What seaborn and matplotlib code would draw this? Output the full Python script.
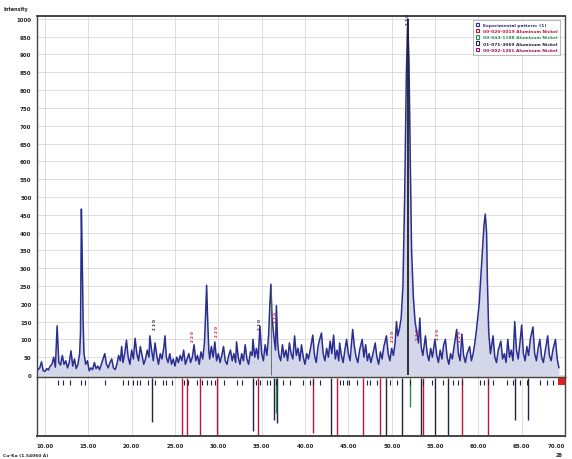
import matplotlib
matplotlib.use("Agg")
import matplotlib.pyplot as plt
import seaborn as sns
import pandas as pd
from matplotlib.patches import Patch

# ---------------- data ----------------
two_theta = [9.2, 9.4, 9.6, 9.8, 10.0, 10.2, 10.4, 10.6, 10.8, 11.0, 11.2, 11.4, 11.6, 11.8, 12.0,
             12.2, 12.4, 12.6, 12.8, 13.0, 13.2, 13.4, 13.6, 13.8, 14.0, 14.1, 14.2, 14.3, 14.4, 14.5,
             14.7, 14.9, 15.1, 15.3, 15.5, 15.7, 15.9, 16.1, 16.3, 16.5, 16.7, 16.9, 17.1, 17.3, 17.5,
             17.7, 17.9, 18.1, 18.3, 18.5, 18.7, 18.85, 19.0, 19.2, 19.4, 19.6, 19.8, 20.0, 20.2, 20.4,
             20.6, 20.8, 21.0, 21.2, 21.4, 21.6, 21.8, 22.0, 22.1, 22.3, 22.5, 22.7, 22.9, 23.1, 23.3,
             23.5, 23.7, 23.85, 24.0, 24.2, 24.4, 24.6, 24.8, 25.0, 25.2, 25.4, 25.6, 25.8, 26.0, 26.2,
             26.4, 26.6, 26.8, 27.0, 27.2, 27.4, 27.6, 27.8, 28.0, 28.2, 28.4, 28.55, 28.65, 28.75, 28.9,
             29.0, 29.2, 29.4, 29.6, 29.8, 30.0, 30.2, 30.4, 30.6, 30.8, 31.0, 31.2, 31.4, 31.6, 31.8,
             32.0, 32.1, 32.3, 32.5, 32.7, 32.9, 33.1, 33.3, 33.5, 33.7, 33.9, 34.0, 34.2, 34.4, 34.6,
             34.8, 35.0, 35.2, 35.4, 35.6, 35.8, 35.95, 36.07, 36.2, 36.4, 36.6, 36.7, 36.85, 37.0, 37.2,
             37.4, 37.6, 37.8, 38.0, 38.2, 38.4, 38.6, 38.8, 39.0, 39.2, 39.4, 39.6, 39.8, 40.0, 40.2,
             40.4, 40.6, 40.9, 41.1, 41.3, 41.5, 41.7, 41.9, 42.1, 42.3, 42.5, 42.7, 42.9, 43.1, 43.3,
             43.5, 43.7, 43.9, 44.0, 44.2, 44.4, 44.6, 44.8, 45.0, 45.2, 45.5, 45.7, 45.9, 46.1, 46.3,
             46.6, 46.8, 47.0, 47.2, 47.4, 47.6, 47.8, 48.1, 48.3, 48.5, 48.7, 48.9, 49.1, 49.4, 49.6,
             49.8, 50.0, 50.2, 50.4, 50.55, 50.7, 50.9, 51.1, 51.3, 51.5, 51.7, 51.85, 52.0, 52.15, 52.3,
             52.5, 52.7, 52.9, 53.1, 53.25, 53.4, 53.6, 53.9, 54.1, 54.3, 54.5, 54.7, 55.0, 55.2, 55.4,
             55.6, 55.8, 56.0, 56.2, 56.4, 56.6, 56.8, 57.0, 57.2, 57.5, 57.7, 57.9, 58.1, 58.3, 58.5,
             58.7, 59.0, 59.2, 59.4, 59.6, 59.8, 59.96, 60.1, 60.3, 60.5, 60.65, 60.8, 60.95, 61.05, 61.2,
             61.4, 61.7, 61.9, 62.1, 62.3, 62.6, 62.8, 63.0, 63.2, 63.4, 63.6, 63.8, 64.0, 64.2, 64.4,
             64.6, 64.8, 65.0, 65.2, 65.4, 65.6, 65.8, 66.0, 66.3, 66.5, 66.7, 66.9, 67.1, 67.3, 67.5,
             67.7, 68.0, 68.2, 68.4, 68.6, 68.9, 69.1, 69.3]
intensity = [15, 20, 37, 12, 10, 18, 14, 25, 30, 50, 22, 138, 35, 28, 55,
             30, 40, 20, 35, 68, 25, 45, 18, 30, 60, 120, 466, 330, 150, 60,
             30, 40, 12, 20, 15, 35, 18, 25, 15, 30, 45, 60, 30, 20, 35,
             45, 20, 15, 30, 55, 40, 80, 35, 60, 98, 50, 30, 70, 45, 103,
             60, 40, 80, 55, 30, 45, 70, 50, 110, 70, 40, 90, 55, 30, 60,
             45, 75, 110, 50, 35, 60, 30, 45, 25, 50, 35, 55, 40, 70, 30,
             45, 60, 35, 50, 85, 40, 55, 30, 65, 45, 90, 180, 252, 170, 70,
             45, 80, 50, 93, 40, 60, 35, 55, 80, 40, 30, 55, 70, 40, 60,
             35, 93, 50, 30, 60, 40, 85, 45, 30, 65, 55, 100, 50, 75, 45,
             138, 60, 40, 85, 55, 110, 200, 255, 160, 110, 70, 195, 90, 55, 40,
             85, 50, 70, 40, 90, 60, 45, 110, 55, 75, 40, 85, 50, 30, 60,
             45, 70, 112, 55, 35, 80, 100, 118, 60, 40, 75, 50, 95, 60, 112,
             45, 70, 40, 90, 55, 35, 70, 100, 60, 40, 128, 80, 50, 35, 70,
             100, 50, 85, 40, 60, 35, 55, 90, 50, 30, 65, 45, 80, 110, 60,
             40, 75, 55, 90, 150, 110, 130, 160, 250, 500, 850, 1000, 880, 600, 350,
             220, 150, 120, 90, 160, 80, 55, 110, 60, 40, 75, 50, 100, 55, 35,
             70, 45, 85, 100, 50, 30, 60, 45, 80, 128, 60, 40, 115, 55, 35,
             60, 80, 40, 60, 90, 130, 168, 200, 280, 360, 420, 452, 400, 260, 120,
             60, 110, 50, 35, 70, 95, 45, 60, 35, 100, 50, 70, 40, 150, 70,
             45, 90, 140, 60, 40, 80, 55, 100, 135, 60, 40, 75, 100, 50, 35,
             65, 110, 55, 40, 70, 100, 45, 20]

# reference-pattern sticks (lower panel), relative length
red_pos = [25.8, 26.4, 27.9, 29.8, 34.6, 40.9, 43.7, 46.7, 48.6, 53.6, 58.1, 61.1]
red_len = [1.0, 1.0, 1.0, 1.0, 1.0, 0.95, 1.0, 1.0, 1.0, 1.0, 1.0, 1.0]
dark_pos = [22.3, 34.0, 36.4, 36.8, 43.0, 49.4, 51.2, 53.4, 55.0, 56.5, 64.2, 65.7]
dark_len = [0.75, 0.92, 0.72, 0.77, 1.0, 1.0, 1.0, 1.0, 1.0, 1.0, 0.72, 0.72]
green_pos = [36.6, 52.1]
green_len = [0.6, 0.5]

# peak-position markers just below the zero line
marker_pos = [11.5, 12.1, 12.9, 14.2, 14.6, 16.9, 19.0, 19.6, 20.2, 20.6, 21.0, 21.9, 22.3, 22.7,
              23.6, 24.0, 24.6, 26.0, 26.5, 27.5, 28.1, 28.65, 29.2, 29.6, 30.6, 32.1, 32.7, 34.0,
              34.4, 34.8, 35.6, 36.0, 36.7, 37.5, 38.3, 39.8, 40.6, 40.9, 41.7, 44.0, 44.4, 44.8,
              45.1, 46.0, 47.1, 47.5, 48.3, 49.4, 49.8, 50.6, 52.1, 53.6, 54.6, 55.9, 57.1, 57.6,
              58.1, 60.2, 60.6, 61.1, 61.7, 63.3, 64.0, 64.8, 65.6, 67.1, 67.9, 68.6]

# small hkl labels above peaks
label_pos = [22.7, 27.1, 29.8, 34.8, 36.7, 50.2, 53.0, 55.3, 57.9, 51.9]
label_int = [130, 95, 110, 130, 150, 95, 100, 100, 95, 985]
label_col = ["#222244", "#c0143c", "#c0143c", "#222244", "#c0143c", "#c0143c", "#c0143c",
             "#c0143c", "#c0143c", "#222244"]

legend_labels = ["Experimental pattern: (1)",
                 "00-020-0019 Aluminum Nickel",
                 "00-044-1188 Aluminum Nickel",
                 "01-071-3069 Aluminum Nickel",
                 "00-002-1261 Aluminum Nickel"]
legend_colors = ["#2a2f8f", "#c0143c", "#2e8b57", "#222244", "#a0105a"]

x_ticks = [10, 15, 20, 25, 30, 35, 40, 45, 50, 55, 60, 65, 70]
y_ticks = list(range(0, 1001, 50))

# ---------------- drawing ----------------
sns.set_theme(style="white")
plt.rcParams["font.family"] = ["DejaVu Sans"]

W, H = 572, 460
fig = plt.figure(figsize=(W / 100, H / 100), dpi=100)
L, R = 37, 565
ax = fig.add_axes([L / W, 1 - 378 / H, (R - L) / W, (378 - 17) / H])
axb = fig.add_axes([L / W, 1 - 437 / H, (R - L) / W, (437 - 378) / H], sharex=ax)

df = pd.DataFrame({"two_theta": two_theta, "intensity": intensity})
ax.fill_between(df["two_theta"], 0, df["intensity"], color="#d4d7ea", lw=0, zorder=1)
sns.lineplot(data=df, x="two_theta", y="intensity", ax=ax, color="#2a2f8f",
             lw=1.1, sort=False, estimator=None, zorder=3)
# main reference stick through strongest peak
ax.vlines([51.85], 0, 1000, color="#222222", lw=1.3, zorder=4)
ax.vlines([36.07], 0, 250, color="#556655", lw=0.6, zorder=4)

for p, v, c in zip(label_pos, label_int, label_col):
    ax.text(p, v, "2 2 0", fontsize=2.8, color=c, rotation=90, ha="center", va="bottom",
            fontweight="bold", zorder=5)

ax.set_xlim(9.08, 70.0)
ax.set_ylim(-5.6, 1008)
ax.set_yticks(y_ticks)
ax.set_yticklabels([str(v) for v in y_ticks], fontsize=4, fontweight="bold")
ax.set_xticks(x_ticks)
ax.tick_params(axis="x", labelbottom=False, length=0)
ax.tick_params(axis="y", length=3, width=1.2, direction="out", pad=1, color="#222222")
ax.grid(True, color="#d8d8d8", lw=0.6)
ax.set_axisbelow(True)
ax.set_xlabel("")
ax.set_ylabel("")
for s in ax.spines.values():
    s.set_color("#444444")
    s.set_linewidth(1.0)
ax.spines["top"].set_linewidth(1.4)

handles = [Patch(facecolor="white", edgecolor=c, lw=0.8) for c in legend_colors]
leg = ax.legend(handles, legend_labels, loc="upper right", fontsize=3.2, frameon=True,
                fancybox=False, handlelength=0.8, handleheight=0.8, borderpad=0.6,
                labelspacing=0.45, bbox_to_anchor=(0.995, 0.995))
leg.get_frame().set_edgecolor("#888888")
leg.get_frame().set_linewidth(0.5)
for t, c in zip(leg.get_texts(), legend_colors):
    t.set_color(c)
    t.set_fontweight("bold")

# lower panel
axb.vlines(red_pos, 0, [-v for v in red_len], color="#c0143c", lw=1.0)
axb.vlines(dark_pos, 0, [-v for v in dark_len], color="#222244", lw=1.0)
axb.vlines(green_pos, 0, [-v for v in green_len], color="#2e8b57", lw=1.0)
axb.vlines(marker_pos, -0.03, -0.12, color="#222244", lw=0.8)
axb.fill_between([69.2, 70.0], -0.12, 0.0, color="#e02020", lw=0)
axb.set_ylim(-1.0, 0.02)
axb.set_yticks([])
axb.set_xticks(x_ticks)
axb.set_xticklabels([f"{v:.2f}" for v in x_ticks], fontsize=4, fontweight="bold")
axb.get_xticklabels()[-1].set_horizontalalignment("right")
axb.tick_params(axis="x", length=3, width=1.2, direction="out", pad=2, color="#222222")
axb.grid(True, axis="x", color="#d8d8d8", lw=0.6)
axb.set_axisbelow(True)
for s in axb.spines.values():
    s.set_color("#444444")
    s.set_linewidth(1.0)
axb.spines["bottom"].set_linewidth(1.4)

fig.text(3 / W, 1 - 10 / H, "Intensity", fontsize=3.5, fontweight="bold", va="center")
fig.text(3 / W, 1 - 456 / H, "Cu-Kα (1.54060 Å)", fontsize=3.2, fontweight="bold", va="center")
fig.text(556 / W, 1 - 456 / H, "2θ", fontsize=3.5, fontweight="bold", va="center")

fig.savefig("out.png", dpi=100)
